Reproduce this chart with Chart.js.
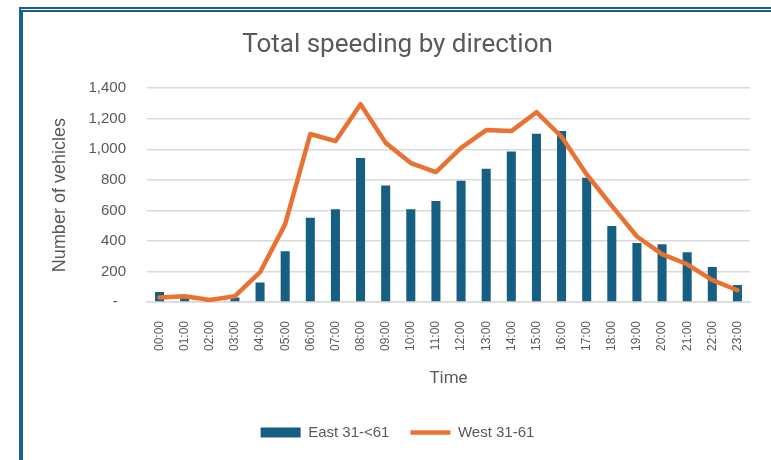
<!DOCTYPE html>
<html>
<head>
<meta charset="utf-8">
<script src="https://cdn.jsdelivr.net/npm/chart.js@4/dist/chart.umd.min.js"></script>
<style>
  html, body { margin: 0; padding: 0; background: #fff; }
  body { width: 771px; height: 460px; overflow: hidden; position: relative; }
  #frame {
    position: absolute; left: 19px; top: 7px; width: 800px; height: 500px;
    border-left: 4px solid #17618a; border-top: 5px double #17618a;
    pointer-events: none;
  }
  canvas { position: absolute; left: 0; top: 0; }
</style>
</head>
<body>
<canvas id="speeding" width="771" height="450"></canvas>
<div id="frame"></div>
<script>
// hours of the day
const hours = ["00:00","01:00","02:00","03:00","04:00","05:00","06:00","07:00","08:00","09:00","10:00","11:00",
               "12:00","13:00","14:00","15:00","16:00","17:00","18:00","19:00","20:00","21:00","22:00","23:00"];
// vehicles, east bound (bars)
const east = [65, 30, 10, 30, 128, 332, 552, 607, 943, 763, 607, 662,
              794, 873, 985, 1102, 1119, 814, 497, 387, 378, 326, 229, 112];
// vehicles, west bound (line)
const west = [30, 38, 14, 38, 195, 510, 1100, 1053, 1295, 1042, 910, 851,
              1009, 1126, 1119, 1243, 1082, 835, 630, 429, 313, 247, 143, 77];

const grey = "#595959";
const sans = "'Liberation Sans', Arial, sans-serif";
const narrow = "'Liberation Sans Narrow', 'Roboto', sans-serif";

let ctx = document.getElementById("speeding").getContext("2d");

new Chart(ctx, {
    type: "bar",
    data: {
        labels: hours,
        datasets: [
            {
                label: "East 31-<61",
                data: east,
                backgroundColor: "#156082",
                barPercentage: 0.36,
                categoryPercentage: 1,
                order: 2,
                pointStyle: "rect"
            },
            {
                type: "line",
                label: "West 31-61",
                data: west,
                borderColor: "#E97132",
                backgroundColor: "#E97132",
                borderWidth: 4.5,
                borderCapStyle: "round",
                borderJoinStyle: "round",
                pointRadius: 0,
                tension: 0,
                order: 1,
                pointStyle: "line"
            }
        ]
    },
    options: {
        responsive: false,
        animation: false,
        layout: { padding: { left: 45, right: 21, top: 0, bottom: 0 } },
        plugins: {
            title: {
                display: true,
                text: "Total speeding by direction",
                color: grey,
                font: { family: narrow, size: 26, weight: "normal" },
                padding: { top: 30, bottom: 27 }
            },
            legend: {
                position: "bottom",
                labels: {
                    color: grey,
                    font: { family: sans, size: 15 },
                    usePointStyle: true,
                    pointStyleWidth: 40,
                    boxHeight: 10,
                    padding: 21,
                    sort: (a, b) => a.datasetIndex - b.datasetIndex
                }
            },
            tooltip: { enabled: false }
        },
        scales: {
            x: {
                grid: { display: false },
                border: { display: true, color: "#d9d9d9", width: 1.5 },
                ticks: {
                    color: grey,
                    font: { family: sans, size: 12 },
                    minRotation: 90,
                    maxRotation: 90,
                    padding: 11,
                    autoSkip: false
                },
                title: {
                    display: true,
                    text: "Time",
                    color: grey,
                    font: { family: narrow, size: 17 },
                    padding: { top: 4, bottom: 15 }
                },
                afterFit: function(scale) { scale.height = 102; }
            },
            y: {
                min: 0,
                max: 1400,
                grid: { color: "#d9d9d9", lineWidth: 1.5, drawTicks: false },
                border: { display: false },
                ticks: {
                    stepSize: 200,
                    color: grey,
                    font: { family: sans, size: 15 },
                    padding: 21,
                    callback: function(v) { return v === 0 ? "-  " : v.toLocaleString("en-US"); }
                },
                title: {
                    display: true,
                    text: "Number of vehicles",
                    color: grey,
                    font: { family: sans, size: 18 },
                    padding: 4
                },
                afterFit: function(scale) { scale.width = 102; }
            }
        }
    }
});
</script>
</body>
</html>
